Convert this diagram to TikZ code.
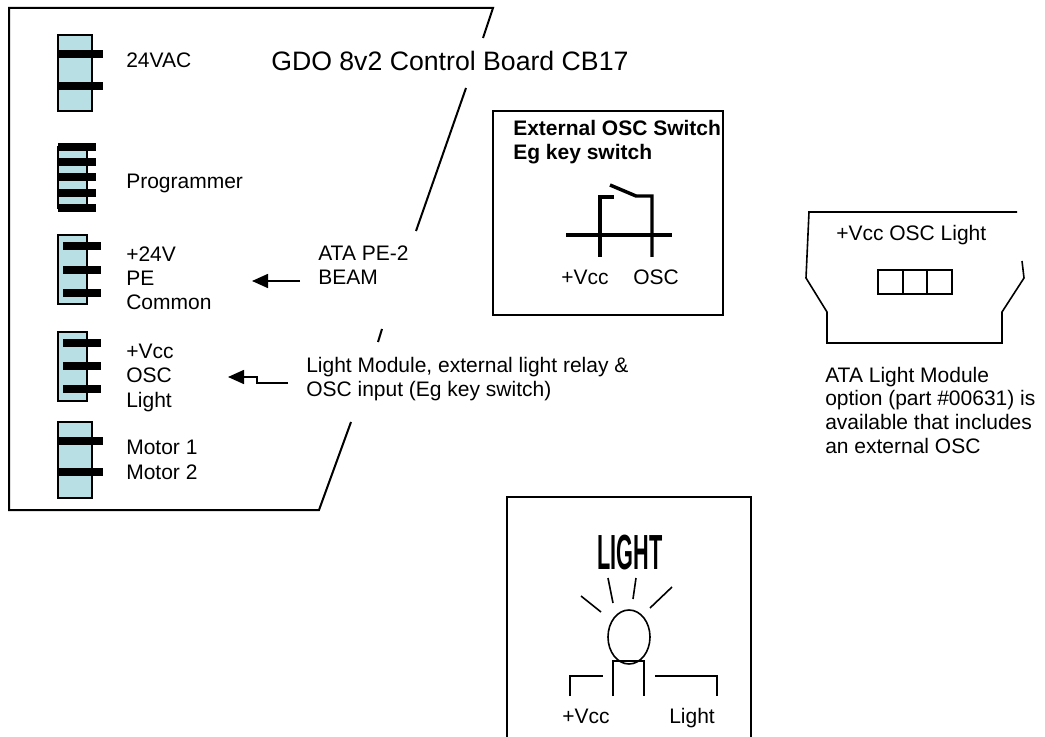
\documentclass[tikz,border=0pt]{standalone}
\usepackage{fontspec}
\setmainfont{Liberation Sans}
\usetikzlibrary{arrows.meta}
\definecolor{bodyblue}{HTML}{B8DFE3}
\tikzset{
outline/.style={line width=1.5pt},
thinline/.style={line width=1.2pt},
pin/.style={line width=5.4pt},
lead/.style={line width=2.6pt},
bigarrow/.style={line width=1.2pt,-{Triangle[length=12pt,width=10.5pt]}},
label/.style={inner sep=0pt,anchor=base west,align=left,font=\fontsize{15.75}{18}\selectfont},
}
\providecommand{\Body}[2]{
\draw[outline,fill=bodyblue] (#1) rectangle (#2);
}
\providecommand{\Pin}[3]{
\draw[pin] (#1,#3) -- (#2,#3);
}
\begin{document}
\begin{tikzpicture}[x=.75pt,y=-.75pt]
\useasboundingbox (0,0) rectangle (1045,737);
% control board
\draw[outline] (483,38) -- (493,8) -- (9,8) -- (9,510) -- (319,510) -- (351,422);
\draw[outline] (466,88) -- (416,231);
\draw[outline] (382,329) -- (378,342);
\node[label,font=\fontsize{20}{24}\selectfont] (title) at (271,71) {GDO 8v2 Control Board CB17};
% connectors
\Body{58,35}{92,111}
\Pin{58}{103}{54}\Pin{58}{103}{86}
\Body{58,147}{87,208}
\Pin{58}{96}{147}\Pin{58}{96}{162}\Pin{58}{96}{177}\Pin{58}{96}{193}\Pin{58}{96}{208}
\Body{58,235}{87,304}
\Pin{63}{101}{246}\Pin{63}{101}{270}\Pin{63}{101}{293}
\Body{58,332}{87,401}
\Pin{63}{101}{343}\Pin{63}{101}{366}\Pin{63}{101}{389}
\Body{58,422}{92,498}
\Pin{58}{103}{441}\Pin{58}{103}{472}
\node[label] (acin) at (126,68) {24VAC};
\node[label] (prog) at (126,189) {Programmer};
\node[label] (pe) at (126,310) {+24V\\PE\\Common};
\node[label] (osc) at (126,407) {+Vcc\\OSC\\Light};
\node[label] (motor) at (126,479) {Motor 1\\Motor 2};
\node[label] (beam) at (318,285) {ATA PE-2\\BEAM};
\node[label] (module) at (306,397) {Light Module, external light relay \&\\OSC input (Eg key switch)};
\coordinate (petip) at (252,281);
\coordinate (beamtail) at (300,281);
\coordinate (osctip) at (228,377);
\coordinate (moduletail) at (288,383);
\draw[bigarrow] (beamtail) -- (petip);
\draw[bigarrow] (moduletail) -- (257,383) -- (257,377) -- (osctip);
% switch
\draw[outline] (493,111) rectangle (723,315);
\node[label,font=\fontsize{15.75}{18.6}\selectfont\bfseries] (switchtitle) at (513,160) {External OSC Switch\\Eg key switch};
\draw[lead] (566,235) -- (672,235);
\draw[lead] (600,257) -- (600,197) -- (614,197);
\draw[lead] (652,257) -- (652,196) -- (636,196) -- (610,185);
\node[label] (swvcc) at (561,285) {+Vcc};
\node[label] (swosc) at (633,285) {OSC};
% light module
\draw[thinline] (1017,212) -- (809,212) -- (806,278) -- (827,312) -- (827,343) -- (1002,343) -- (1002,312) -- (1024,278) -- (1022,261);
\draw[thinline] (878,270) rectangle (952,294);
\draw[thinline] (903,270) -- (903,294);
\draw[thinline] (927,270) -- (927,294);
\node[label] (modpins) at (836,241) {+Vcc OSC Light};
\node[label] (modtext) at (825,454) {ATA Light Module\\option (part \#00631) is\\available that includes\\an external OSC};
% lamp
\draw[outline] (507,737) -- (507,497) -- (751,497) -- (751,737);
\node[inner sep=0pt,anchor=base] (lighttitle) at (630,569) {\scalebox{.44}[1]{\fontsize{37}{37}\selectfont\bfseries LIGHT}};
\draw[thinline] (629,637) ellipse (21 and 27);
\draw[thinline] (581,596) -- (601,612);
\draw[thinline] (608,578) -- (613,603);
\draw[thinline] (636,578) -- (633,599);
\draw[thinline] (672,587) -- (650,608);
\draw[thinline] (613,696) -- (613,661) -- (644,661) -- (644,696);
\draw[thinline] (570,696) -- (570,676) -- (603,676);
\draw[thinline] (655,676) -- (717,676) -- (717,696);
\node[label] (lampvcc) at (562,723) {+Vcc};
\node[label] (lamplight) at (669,723) {Light};
\end{tikzpicture}
\end{document}
